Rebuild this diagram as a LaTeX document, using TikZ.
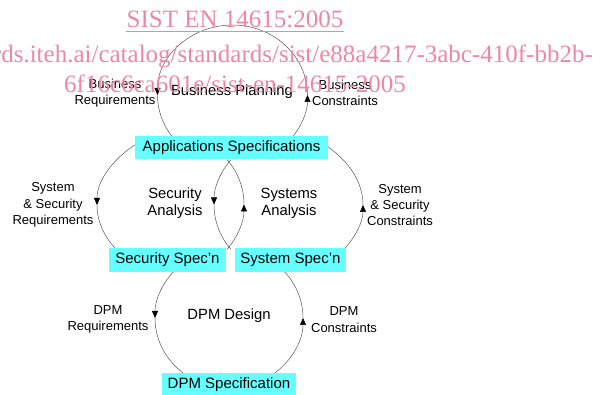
\documentclass[tikz,border=0pt]{standalone}
\usepackage{fontspec}
\setmainfont{Liberation Sans}
\newfontfamily\wmfont{Liberation Serif}
\usetikzlibrary{arrows.meta,calc}
\definecolor{specfill}{RGB}{102,255,255}
\definecolor{wmpink}{RGB}{238,135,165}
\definecolor{arcgray}{RGB}{85,85,85}
\tikzset{
  flow/.style={draw=arcgray, line width=0.5pt},
  flowtip/.style={-{Triangle[length=7pt,width=6pt,color=black]}},
  specbox/.style={fill=specfill, inner sep=0pt, font=\fontsize{15}{17}\selectfont},
  note/.style={align=center, inner sep=0pt, font=\fontsize{13}{16.3}\selectfont},
  phase/.style={align=center, inner sep=0pt, font=\fontsize{14.8}{16.7}\selectfont},
  wmark/.style={text=wmpink, inner sep=0pt, font=\wmfont\fontsize{25}{28}\selectfont},
}
% elliptical arc piece: [options]{centre}{x radius}{y radius}{start}{end}
\newcommand\ellarc[6][]{%
  \draw[flow,#1] ($(#2)+(#5:#3pt and #4pt)$)
    arc[start angle=#5, end angle=#6, x radius=#3pt, y radius=#4pt];}

\begin{document}
\begin{tikzpicture}[x=1pt,y=1pt]
  \fill[white] (0,0) rectangle (595,394);
  \path[use as bounding box] (0,0) rectangle (595,394);
  \clip (0,0) rectangle (595,394);

  % centres of the cycles
  \coordinate (planc) at (232.5,299);
  \coordinate (specc) at (230,189);
  \coordinate (secc)  at (281.7,189.5);
  \coordinate (sysc)  at (176.3,189.5);
  \coordinate (dpmc)  at (229,76);

  % Business Planning cycle
  \ellarc[flowtip]{planc}{75}{70}{90}{180}
  \ellarc{planc}{75}{70}{180}{220}
  \ellarc[flowtip]{planc}{75}{70}{-40}{0}
  \ellarc{planc}{75}{70}{0}{90}

  % outer requirements / constraints arcs
  \ellarc[flowtip]{specc}{133}{86}{134}{180}
  \ellarc{specc}{133}{86}{180}{212}
  \ellarc[flowtip]{specc}{133}{86}{-32}{0}
  \ellarc{specc}{133}{86}{0}{46}

  % security / systems analysis lens
  \ellarc[flowtip]{secc}{67.7}{67.7}{139}{180}
  \ellarc{secc}{67.7}{67.7}{180}{221}
  \ellarc[flowtip]{sysc}{67.7}{67.7}{-41}{0}
  \ellarc{sysc}{67.7}{67.7}{0}{41}

  % DPM design cycle
  \ellarc[flowtip]{dpmc}{74}{70}{136}{180}
  \ellarc{dpmc}{74}{70}{180}{235}
  \ellarc[flowtip]{dpmc}{74}{70}{-55}{0}
  \ellarc{dpmc}{74}{70}{0}{44}

  % specification boxes
  \node[specbox, minimum width=193pt, minimum height=23pt] (appspec) at (231.5,246.5) {Applications Specifications};
  \node[specbox, minimum width=117pt, minimum height=24pt] (secspec) at (167.5,134) {Security Spec'n};
  \node[specbox, minimum width=111pt, minimum height=24pt] (sysspec) at (290.5,134) {System Spec'n};
  \node[specbox, minimum width=134pt, minimum height=23pt] (dpmspec) at (229,9.5) {DPM Specification};

  % labels
  \node[note] (bizreq) at (115,301) {Business\\Requirements};
  \node[note] (bizcon) at (345,301) {Business\\Constraints};
  \node[phase] (bizplan) at (232,302) {Business Planning};
  \node[note] (ssreq) at (53,189) {System\\\& Security\\Requirements};
  \node[phase] (secan) at (175,190.5) {Security\\Analysis};
  \node[phase] (sysan) at (289,190.5) {Systems\\Analysis};
  \node[note] (sscon) at (400,189) {System\\\& Security\\Constraints};
  \node[note] (dpmreq) at (108,74.5) {DPM\\Requirements};
  \node[phase] (dpmdes) at (229,78) {DPM Design};
  \node[note] (dpmcon) at (344,74.5) {DPM\\Constraints};

  % overprinted catalogue mark
  \node[wmark, anchor=base] (wmone) at (235,366) {SIST EN 14615:2005};
  \draw[wmpink, line width=1.2pt] ($(wmone.base west)+(0,-3.5)$) -- ($(wmone.base east)+(0,-3.5)$);
  \node[wmark, anchor=base east] (wmtwo) at (593,331) {standards.iteh.ai/catalog/standards/sist/e88a4217-3abc-410f-bb2b-};
  \node[wmark, anchor=base] (wmthree) at (235,301.5) {6f16c6ca601e/sist-en-14615-2005};
\end{tikzpicture}
\end{document}
